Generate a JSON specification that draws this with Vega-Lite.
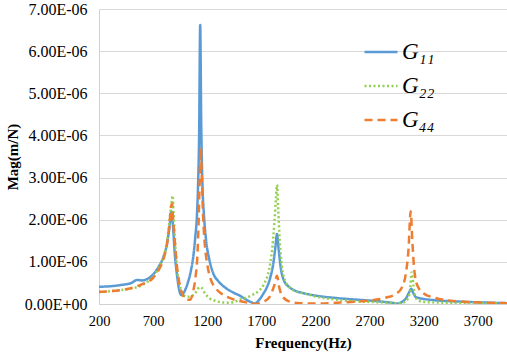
{
  "$schema": "https://vega.github.io/schema/vega-lite/v6.json",
  "width": 408,
  "height": 295,
  "autosize": "none",
  "padding": {"left": 99, "top": 9, "right": 0, "bottom": 52},
  "background": "white",
  "config": {"view": {"stroke": null}, "font": "Liberation Serif"},
  "datasets": {
    "frf": [
      {"f":200,"s":"G₁₁","m":0.41e-6},{"f":300,"s":"G₁₁","m":0.42e-6},{"f":400,"s":"G₁₁","m":0.45e-6},{"f":500,"s":"G₁₁","m":0.5e-6},{"f":550,"s":"G₁₁","m":0.57e-6},{"f":600,"s":"G₁₁","m":0.56e-6},{"f":650,"s":"G₁₁","m":0.6e-6},{"f":700,"s":"G₁₁","m":0.7e-6},{"f":750,"s":"G₁₁","m":0.88e-6},{"f":800,"s":"G₁₁","m":1.15e-6},{"f":830,"s":"G₁₁","m":1.45e-6},{"f":850,"s":"G₁₁","m":1.8e-6},{"f":870,"s":"G₁₁","m":2.2e-6},{"f":885,"s":"G₁₁","m":1.8e-6},{"f":900,"s":"G₁₁","m":1.2e-6},{"f":920,"s":"G₁₁","m":0.7e-6},{"f":940,"s":"G₁₁","m":0.35e-6},{"f":960,"s":"G₁₁","m":0.21e-6},{"f":990,"s":"G₁₁","m":0.3e-6},{"f":1020,"s":"G₁₁","m":0.5e-6},{"f":1050,"s":"G₁₁","m":0.8e-6},{"f":1070,"s":"G₁₁","m":1.1e-6},{"f":1090,"s":"G₁₁","m":1.6e-6},{"f":1105,"s":"G₁₁","m":2.1e-6},{"f":1115,"s":"G₁₁","m":2.8e-6},{"f":1125,"s":"G₁₁","m":4.0e-6},{"f":1135,"s":"G₁₁","m":6.62e-6},{"f":1145,"s":"G₁₁","m":4.2e-6},{"f":1155,"s":"G₁₁","m":2.9e-6},{"f":1170,"s":"G₁₁","m":2.1e-6},{"f":1190,"s":"G₁₁","m":1.5e-6},{"f":1220,"s":"G₁₁","m":1.05e-6},{"f":1260,"s":"G₁₁","m":0.7e-6},{"f":1300,"s":"G₁₁","m":0.55e-6},{"f":1350,"s":"G₁₁","m":0.42e-6},{"f":1400,"s":"G₁₁","m":0.33e-6},{"f":1450,"s":"G₁₁","m":0.26e-6},{"f":1500,"s":"G₁₁","m":0.2e-6},{"f":1550,"s":"G₁₁","m":0.12e-6},{"f":1600,"s":"G₁₁","m":0.05e-6},{"f":1640,"s":"G₁₁","m":0.01e-6},{"f":1680,"s":"G₁₁","m":0.1e-6},{"f":1720,"s":"G₁₁","m":0.25e-6},{"f":1760,"s":"G₁₁","m":0.45e-6},{"f":1790,"s":"G₁₁","m":0.7e-6},{"f":1810,"s":"G₁₁","m":0.95e-6},{"f":1830,"s":"G₁₁","m":1.35e-6},{"f":1845,"s":"G₁₁","m":1.66e-6},{"f":1860,"s":"G₁₁","m":1.3e-6},{"f":1880,"s":"G₁₁","m":0.85e-6},{"f":1910,"s":"G₁₁","m":0.55e-6},{"f":1950,"s":"G₁₁","m":0.42e-6},{"f":2000,"s":"G₁₁","m":0.33e-6},{"f":2100,"s":"G₁₁","m":0.25e-6},{"f":2200,"s":"G₁₁","m":0.2e-6},{"f":2400,"s":"G₁₁","m":0.14e-6},{"f":2600,"s":"G₁₁","m":0.1e-6},{"f":2800,"s":"G₁₁","m":0.06e-6},{"f":2900,"s":"G₁₁","m":0.03e-6},{"f":2960,"s":"G₁₁","m":0.01e-6},{"f":3000,"s":"G₁₁","m":0.05e-6},{"f":3040,"s":"G₁₁","m":0.15e-6},{"f":3070,"s":"G₁₁","m":0.3e-6},{"f":3085,"s":"G₁₁","m":0.36e-6},{"f":3100,"s":"G₁₁","m":0.28e-6},{"f":3130,"s":"G₁₁","m":0.16e-6},{"f":3200,"s":"G₁₁","m":0.12e-6},{"f":3300,"s":"G₁₁","m":0.09e-6},{"f":3500,"s":"G₁₁","m":0.06e-6},{"f":3700,"s":"G₁₁","m":0.04e-6},{"f":3970,"s":"G₁₁","m":0.02e-6},

      {"f":200,"s":"G₂₂","m":0.28e-6},{"f":400,"s":"G₂₂","m":0.33e-6},{"f":500,"s":"G₂₂","m":0.37e-6},{"f":600,"s":"G₂₂","m":0.45e-6},{"f":650,"s":"G₂₂","m":0.53e-6},{"f":700,"s":"G₂₂","m":0.64e-6},{"f":750,"s":"G₂₂","m":0.85e-6},{"f":800,"s":"G₂₂","m":1.15e-6},{"f":830,"s":"G₂₂","m":1.5e-6},{"f":850,"s":"G₂₂","m":1.95e-6},{"f":870,"s":"G₂₂","m":2.4e-6},{"f":880,"s":"G₂₂","m":2.57e-6},{"f":890,"s":"G₂₂","m":2.1e-6},{"f":905,"s":"G₂₂","m":1.4e-6},{"f":925,"s":"G₂₂","m":0.75e-6},{"f":950,"s":"G₂₂","m":0.4e-6},{"f":980,"s":"G₂₂","m":0.22e-6},{"f":1010,"s":"G₂₂","m":0.17e-6},{"f":1050,"s":"G₂₂","m":0.18e-6},{"f":1090,"s":"G₂₂","m":0.26e-6},{"f":1130,"s":"G₂₂","m":0.4e-6},{"f":1150,"s":"G₂₂","m":0.38e-6},{"f":1180,"s":"G₂₂","m":0.25e-6},{"f":1220,"s":"G₂₂","m":0.14e-6},{"f":1270,"s":"G₂₂","m":0.08e-6},{"f":1330,"s":"G₂₂","m":0.04e-6},{"f":1400,"s":"G₂₂","m":0.03e-6},{"f":1450,"s":"G₂₂","m":0.05e-6},{"f":1500,"s":"G₂₂","m":0.1e-6},{"f":1560,"s":"G₂₂","m":0.15e-6},{"f":1620,"s":"G₂₂","m":0.22e-6},{"f":1680,"s":"G₂₂","m":0.32e-6},{"f":1730,"s":"G₂₂","m":0.5e-6},{"f":1770,"s":"G₂₂","m":0.8e-6},{"f":1800,"s":"G₂₂","m":1.3e-6},{"f":1820,"s":"G₂₂","m":1.9e-6},{"f":1835,"s":"G₂₂","m":2.5e-6},{"f":1845,"s":"G₂₂","m":2.83e-6},{"f":1855,"s":"G₂₂","m":2.3e-6},{"f":1870,"s":"G₂₂","m":1.5e-6},{"f":1890,"s":"G₂₂","m":0.9e-6},{"f":1920,"s":"G₂₂","m":0.55e-6},{"f":1960,"s":"G₂₂","m":0.4e-6},{"f":2000,"s":"G₂₂","m":0.32e-6},{"f":2100,"s":"G₂₂","m":0.25e-6},{"f":2200,"s":"G₂₂","m":0.18e-6},{"f":2400,"s":"G₂₂","m":0.1e-6},{"f":2600,"s":"G₂₂","m":0.06e-6},{"f":2800,"s":"G₂₂","m":0.04e-6},{"f":2950,"s":"G₂₂","m":0.02e-6},{"f":3000,"s":"G₂₂","m":0.03e-6},{"f":3040,"s":"G₂₂","m":0.08e-6},{"f":3070,"s":"G₂₂","m":0.25e-6},{"f":3090,"s":"G₂₂","m":0.75e-6},{"f":3105,"s":"G₂₂","m":0.45e-6},{"f":3120,"s":"G₂₂","m":0.2e-6},{"f":3150,"s":"G₂₂","m":0.08e-6},{"f":3200,"s":"G₂₂","m":0.05e-6},{"f":3400,"s":"G₂₂","m":0.03e-6},{"f":3700,"s":"G₂₂","m":0.02e-6},{"f":3970,"s":"G₂₂","m":0.01e-6},

      {"f":200,"s":"G₄₄","m":0.29e-6},{"f":400,"s":"G₄₄","m":0.33e-6},{"f":500,"s":"G₄₄","m":0.38e-6},{"f":600,"s":"G₄₄","m":0.47e-6},{"f":700,"s":"G₄₄","m":0.62e-6},{"f":750,"s":"G₄₄","m":0.8e-6},{"f":800,"s":"G₄₄","m":1.1e-6},{"f":830,"s":"G₄₄","m":1.45e-6},{"f":850,"s":"G₄₄","m":1.85e-6},{"f":865,"s":"G₄₄","m":2.3e-6},{"f":875,"s":"G₄₄","m":2.38e-6},{"f":885,"s":"G₄₄","m":2.0e-6},{"f":900,"s":"G₄₄","m":1.5e-6},{"f":920,"s":"G₄₄","m":0.9e-6},{"f":950,"s":"G₄₄","m":0.4e-6},{"f":980,"s":"G₄₄","m":0.18e-6},{"f":1010,"s":"G₄₄","m":0.1e-6},{"f":1040,"s":"G₄₄","m":0.1e-6},{"f":1070,"s":"G₄₄","m":0.3e-6},{"f":1090,"s":"G₄₄","m":0.6e-6},{"f":1110,"s":"G₄₄","m":1.2e-6},{"f":1120,"s":"G₄₄","m":1.9e-6},{"f":1130,"s":"G₄₄","m":2.9e-6},{"f":1140,"s":"G₄₄","m":3.7e-6},{"f":1150,"s":"G₄₄","m":3.0e-6},{"f":1160,"s":"G₄₄","m":2.2e-6},{"f":1175,"s":"G₄₄","m":1.5e-6},{"f":1200,"s":"G₄₄","m":0.95e-6},{"f":1230,"s":"G₄₄","m":0.6e-6},{"f":1270,"s":"G₄₄","m":0.4e-6},{"f":1330,"s":"G₄₄","m":0.25e-6},{"f":1400,"s":"G₄₄","m":0.15e-6},{"f":1500,"s":"G₄₄","m":0.07e-6},{"f":1600,"s":"G₄₄","m":0.02e-6},{"f":1660,"s":"G₄₄","m":0.0},{"f":1720,"s":"G₄₄","m":0.05e-6},{"f":1780,"s":"G₄₄","m":0.18e-6},{"f":1820,"s":"G₄₄","m":0.45e-6},{"f":1845,"s":"G₄₄","m":0.67e-6},{"f":1865,"s":"G₄₄","m":0.4e-6},{"f":1890,"s":"G₄₄","m":0.2e-6},{"f":1950,"s":"G₄₄","m":0.07e-6},{"f":2050,"s":"G₄₄","m":0.02e-6},{"f":2200,"s":"G₄₄","m":0.01e-6},{"f":2400,"s":"G₄₄","m":0.03e-6},{"f":2600,"s":"G₄₄","m":0.06e-6},{"f":2750,"s":"G₄₄","m":0.1e-6},{"f":2850,"s":"G₄₄","m":0.15e-6},{"f":2950,"s":"G₄₄","m":0.25e-6},{"f":3000,"s":"G₄₄","m":0.4e-6},{"f":3040,"s":"G₄₄","m":0.8e-6},{"f":3060,"s":"G₄₄","m":1.3e-6},{"f":3080,"s":"G₄₄","m":2.2e-6},{"f":3095,"s":"G₄₄","m":1.5e-6},{"f":3110,"s":"G₄₄","m":0.9e-6},{"f":3140,"s":"G₄₄","m":0.45e-6},{"f":3200,"s":"G₄₄","m":0.25e-6},{"f":3300,"s":"G₄₄","m":0.15e-6},{"f":3450,"s":"G₄₄","m":0.08e-6},{"f":3600,"s":"G₄₄","m":0.05e-6},{"f":3800,"s":"G₄₄","m":0.03e-6},{"f":3970,"s":"G₄₄","m":0.02e-6}
    ]
  },
  "data": {"name": "frf"},
  "mark": {"type": "line", "interpolate": "monotone", "clip": true},
  "encoding": {
    "x": {
      "field": "f", "type": "quantitative",
      "scale": {"domain": [200, 3970], "nice": false, "zero": false},
      "axis": {
        "values": [200, 700, 1200, 1700, 2200, 2700, 3200, 3700],
        "format": "d",
        "title": "Frequency(Hz)",
        "titleFontSize": 15, "titleFontWeight": "bold", "titleColor": "#000000",
        "titlePadding": 8,
        "labelFontSize": 14.5, "labelColor": "#000000", "labelPadding": 10,
        "labelFlush": false,
        "grid": false, "ticks": false,
        "domainColor": "#D0D0D0", "domainWidth": 1
      }
    },
    "y": {
      "field": "m", "type": "quantitative",
      "scale": {"domain": [0, 7e-6], "nice": false},
      "axis": {
        "values": [0, 1e-6, 2e-6, 3e-6, 4e-6, 5e-6, 6e-6, 7e-6],
        "labelExpr": "datum.value == 0 ? '0.00E+00' : format(datum.value * 1e6, '.2f') + 'E-06'",
        "title": "Mag(m/N)",
        "titleFontSize": 15, "titleFontWeight": "bold", "titleColor": "#000000",
        "titlePadding": 4,
        "labelFontSize": 16, "labelColor": "#000000", "labelPadding": 12,
        "grid": true, "gridColor": "#D9D9D9", "gridWidth": 1,
        "ticks": false,
        "domainColor": "#D0D0D0", "domainWidth": 1
      }
    },
    "color": {
      "field": "s", "type": "nominal",
      "scale": {"domain": ["G₁₁", "G₂₂", "G₄₄"], "range": ["#5B9BD5", "#92D050", "#ED7D31"]},
      "legend": {
        "title": null,
        "orient": "none", "legendX": 264, "legendY": 25,
        "symbolType": "stroke", "symbolSize": 1089, "symbolStrokeWidth": 2.5,
        "labelFontStyle": "italic", "labelFontSize": 23, "labelColor": "#000000",
        "labelOffset": 3, "rowPadding": 4, "padding": 0
      }
    },
    "strokeDash": {
      "field": "s", "type": "nominal",
      "scale": {"domain": ["G₁₁", "G₂₂", "G₄₄"], "range": [[1, 0], [2, 2.5], [8, 5]]},
      "legend": null
    },
    "strokeWidth": {
      "field": "s", "type": "nominal",
      "scale": {"domain": ["G₁₁", "G₂₂", "G₄₄"], "range": [2.5, 2.5, 3]},
      "legend": null
    }
  }
}
